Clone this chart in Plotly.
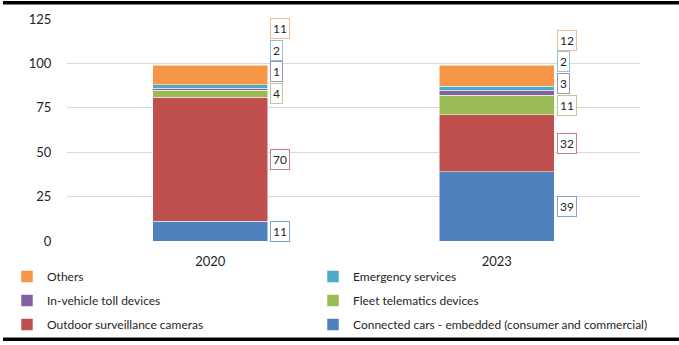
import plotly.graph_objects as go

years = ["2020", "2023"]
series_names = [
    "Connected cars - embedded (consumer and commercial)",
    "Outdoor surveillance cameras",
    "Fleet telematics devices",
    "In-vehicle toll devices",
    "Emergency services",
    "Others",
]
connected = [11, 39]
outdoor = [70, 32]
fleet = [4, 11]
toll = [1, 3]
emergency = [2, 2]
others = [11, 12]
series_values = [connected, outdoor, fleet, toll, emergency, others]
colors = ["#4F81BD", "#C0504D", "#9BBB59", "#8064A2", "#4BACC6", "#F79646"]
label_borders = ["#7FA2CF", "#CF7F7D", "#B5CE8C", "#A290BC", "#86C7DA", "#F9B98A"]
y_ticks = [0, 25, 50, 75, 100, 125]

W, H = 679, 345
ML, MR, MT, MB = 67, 39, 19, 104
FONT = "Lato"
plot_h = H - MT - MB
plot_w = W - ML - MR


def px_to_paper_x(px):
    return (px - ML) / plot_w


def py_to_paper_y(py):
    return 1 - (py - MT) / plot_h


# legend layout: left column Others / In-vehicle / Outdoor; right column Emergency / Fleet / Connected
legend_of = ["legend2", "legend", "legend2", "legend", "legend2", "legend"]
legend_rank = [3, 3, 2, 2, 1, 1]

fig = go.Figure()
for i, (name, vals) in enumerate(zip(series_names, series_values)):
    fig.add_trace(go.Bar(
        x=years, y=vals, name=name,
        marker=dict(color=colors[i], line=dict(color="white", width=0.5)),
        legend=legend_of[i], legendgroup=name, legendrank=legend_rank[i],
    ))

# data labels, de-overlapped upward
yrange = 125.0
px_per_unit = plot_h / yrange
box_h_units = 21.6 / px_per_unit
bar_half_px = round(0.4 * plot_w / len(years) / 2)
for j, yr in enumerate(years):
    cum = 0.0
    prev = None
    for i, vals in enumerate(series_values):
        v = vals[j]
        centre = cum + v / 2.0
        cum += v
        ly = centre if prev is None else max(centre, prev + box_h_units)
        prev = ly
        fig.add_annotation(
            x=j, y=ly, xref="x", yref="y", text=str(v), showarrow=False,
            xanchor="left", yanchor="middle", xshift=bar_half_px + 3,
            font=dict(family=FONT, size=12, color="#262626"),
            bordercolor=label_borders[i], borderwidth=1, borderpad=2, bgcolor="white",
        )

# thick black rules top and bottom
fig.add_shape(type="rect", xref="paper", yref="paper",
              x0=px_to_paper_x(3), x1=px_to_paper_x(679), y0=py_to_paper_y(4.5), y1=py_to_paper_y(1),
              fillcolor="black", line=dict(width=0), layer="above")
fig.add_shape(type="rect", xref="paper", yref="paper",
              x0=px_to_paper_x(3), x1=px_to_paper_x(679), y0=py_to_paper_y(341), y1=py_to_paper_y(337.5),
              fillcolor="black", line=dict(width=0), layer="above")

legend_common = dict(
    orientation="v", xref="paper", yref="paper", yanchor="top", xanchor="left",
    font=dict(family=FONT, size=12, color="#262626"), bgcolor="rgba(0,0,0,0)",
    traceorder="grouped", tracegroupgap=5,
)

fig.update_layout(
    width=W, height=H,
    margin=dict(l=ML, r=MR, t=MT, b=MB, autoexpand=False),
    paper_bgcolor="white", plot_bgcolor="white",
    barmode="stack", bargap=0.6,
    font=dict(family=FONT, size=13, color="#262626"),
    xaxis=dict(type="category", categoryorder="array", categoryarray=years,
               range=[-0.5, len(years) - 0.5], showgrid=False, showline=False,
               ticks="outside", ticklen=8, tickcolor="rgba(0,0,0,0)",
               tickfont=dict(family=FONT, size=13, color="#262626")),
    yaxis=dict(range=[0, 125], tickvals=y_ticks, showgrid=True, gridcolor="#D9D9D9", gridwidth=1,
               zeroline=False, showline=False,
               ticks="outside", ticklen=12, tickcolor="rgba(0,0,0,0)",
               tickfont=dict(family=FONT, size=13, color="#262626")),
    legend=dict(x=px_to_paper_x(47 - 40), y=py_to_paper_y(262), **legend_common),
    legend2=dict(x=px_to_paper_x(353 - 40), y=py_to_paper_y(262), **legend_common),
)

fig.write_html("out.html")
